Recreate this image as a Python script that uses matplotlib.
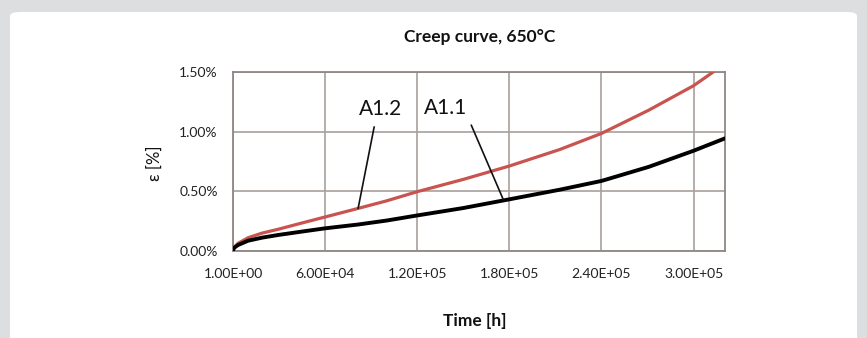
import matplotlib.pyplot as plt
from matplotlib.patches import FancyBboxPatch
from matplotlib.ticker import FuncFormatter

# time [h] and strain [%]
t_a12 = [1, 300, 1100, 3260, 9780, 19000, 29350, 45000, 60000, 81500, 100000,
         120000, 150000, 180000, 213000, 240000, 270800, 300000, 312800]
eps_a12 = [0.0, 0.022, 0.036, 0.064, 0.111, 0.150, 0.182, 0.235, 0.285, 0.357,
           0.42, 0.497, 0.60, 0.712, 0.851, 0.985, 1.18, 1.385, 1.50]

t_a11 = [1, 300, 1100, 3260, 9780, 19000, 29350, 45000, 60000, 81500, 100000,
         120000, 150000, 180000, 213000, 240000, 270800, 300000, 320500]
eps_a11 = [0.0, 0.018, 0.030, 0.050, 0.086, 0.112, 0.134, 0.163, 0.19, 0.222,
           0.255, 0.298, 0.36, 0.433, 0.514, 0.587, 0.705, 0.84, 0.944]

x_ticks = [1, 60000, 120000, 180000, 240000, 300000]
x_ticklabels = ['1.00E+00', '6.00E+04', '1.20E+05', '1.80E+05', '2.40E+05', '3.00E+05']
y_ticks = [0.0, 0.5, 1.0, 1.5]

# curve labels: text position, leader start, leader end (on curve)
labels = ['A1.2', 'A1.1']
label_pos = [(95900, 1.19), (138300, 1.20)]
leader_start = [(91960, 1.04), (155200, 1.055)]
leader_end = [(81500, 0.357), (176100, 0.43)]

font = ['Lato', 'DejaVu Sans']
plt.rcParams['font.family'] = font

fig = plt.figure(figsize=(8.67, 3.38), dpi=100)
fig.patch.set_facecolor('#dddee0')
panel = FancyBboxPatch((10 / 867, -0.2), 847 / 867, 1.2 - 12 / 338,
                       boxstyle='round,pad=0,rounding_size=0.012',
                       transform=fig.transFigure, facecolor='white',
                       edgecolor='none', zorder=-1)
fig.patches.append(panel)

ax = fig.add_axes([233 / 867, 1 - 251 / 338, (725 - 233) / 867, (251 - 72) / 338])
ax.set_zorder(1)
ax.set_facecolor('white')

ax.plot(t_a12, eps_a12, color='#c9534f', lw=2.3, solid_capstyle='round',
        solid_joinstyle='round', zorder=3)
ax.plot(t_a11, eps_a11, color='black', lw=2.8, solid_capstyle='round',
        solid_joinstyle='round', zorder=3)

for name, pos, p0, p1 in zip(labels, label_pos, leader_start, leader_end):
    ax.text(pos[0], pos[1], name, fontsize=15, ha='center', va='center', color='#111111')
    ax.annotate('', xy=p1, xytext=p0,
                arrowprops=dict(arrowstyle='-', color='#111111', lw=1.2,
                                shrinkA=0, shrinkB=0), zorder=4)

ax.set_xlim(1, 320500)
ax.set_ylim(0, 1.5)
ax.set_xticks(x_ticks)
ax.set_xticklabels(x_ticklabels)
ax.set_yticks(y_ticks)
ax.yaxis.set_major_formatter(FuncFormatter(lambda v, p: f'{v:.2f}%'))
ax.tick_params(axis='both', length=0, labelsize=10, colors='#222222')
ax.tick_params(axis='x', pad=12)
ax.tick_params(axis='y', pad=11)

ax.grid(True, color='#a8a09c', lw=1.2)
ax.set_axisbelow(True)
for s in ax.spines.values():
    s.set_color('#8f8784')
    s.set_linewidth(1.3)

fig.text(480 / 867, 1 - 37 / 338, 'Creep curve, 650°C', fontsize=12.5,
         fontweight='bold', ha='center', va='center', color='#111111')
fig.text(475 / 867, 1 - 321 / 338, 'Time [h]', fontsize=12.5,
         fontweight='bold', ha='center', va='center', color='#111111')
fig.text(155 / 867, 1 - 163 / 338, 'ε [%]', fontsize=12, rotation=90,
         ha='center', va='center', color='#111111')

fig.savefig('out.png', dpi=100, facecolor=fig.get_facecolor())
